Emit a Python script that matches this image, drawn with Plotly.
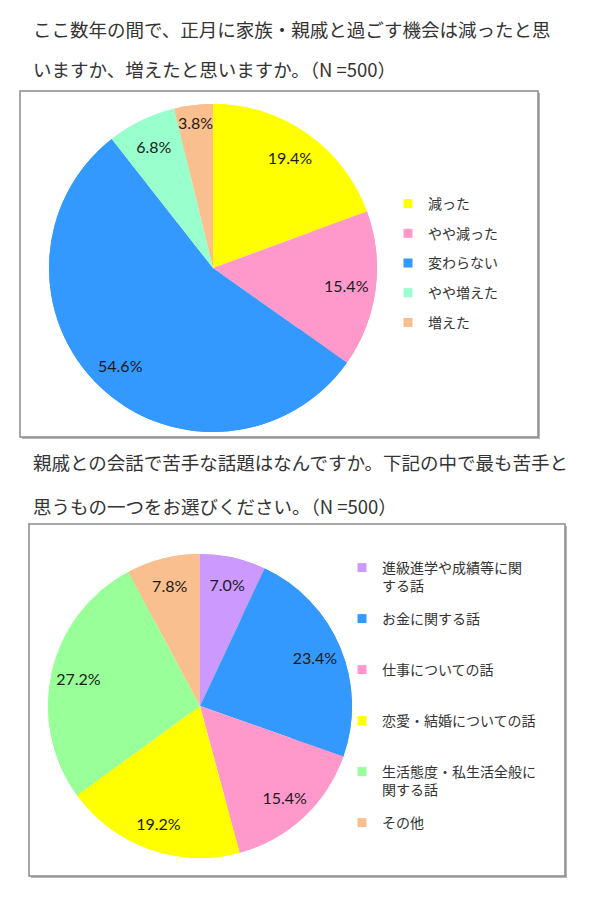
import plotly.graph_objects as go

W, H = 600, 908

# ---- data ----
title1_lines = ["ここ数年の間で、正月に家族・親戚と過ごす機会は減ったと思",
                "いますか、増えたと思いますか。（N =500）"]
labels1 = ["減った", "やや減った", "変わらない", "やや増えた", "増えた"]
values1 = [19.4, 15.4, 54.6, 6.8, 3.8]
colors1 = ["#FFFF00", "#FF99CC", "#3399FF", "#99FFCC", "#FABF8F"]

title2_lines = ["親戚との会話で苦手な話題はなんですか。下記の中で最も苦手と",
                "思うもの一つをお選びください。（N =500）"]
labels2 = ["進級進学や成績等に関<br>する話", "お金に関する話", "仕事についての話",
           "恋愛・結婚についての話", "生活態度・私生活全般に<br>関する話", "その他"]
values2 = [7.0, 23.4, 15.4, 19.2, 27.2, 7.8]
colors2 = ["#CC99FF", "#3399FF", "#FF99CC", "#FFFF00", "#99FF99", "#FABF8F"]

JP = "Noto Sans CJK JP"
NUM = "Lato"


def px_x(v):
    return v / W


def px_y(v):
    return 1 - v / H


fig = go.Figure()


def add_pie(values, labels, colors, cx, cy, r):
    dom = dict(x=[px_x(cx - r), px_x(cx + r)], y=[px_y(cy + r), px_y(cy - r)])
    common = dict(values=values, labels=labels, sort=False, direction="clockwise",
                  rotation=0, marker=dict(colors=colors, line=dict(width=0)),
                  domain=dom, showlegend=False, hoverinfo="skip")
    # full pie (fills the centre)
    fig.add_trace(go.Pie(textinfo="none", **common))
    # ring on top carrying the percentage labels near the rim
    fig.add_trace(go.Pie(hole=0.64, texttemplate="%{value:.1f}%", textposition="inside",
                         insidetextorientation="horizontal",
                         textfont=dict(family=NUM, size=16, color="#1a1a1a"), **common))


add_pie(values1, labels1, colors1, 213, 268, 164)
add_pie(values2, labels2, colors2, 200, 706, 152)

# legend entries
for i, (lab, col) in enumerate(zip(labels1, colors1)):
    fig.add_trace(go.Scatter(x=[None], y=[None], mode="markers", name=lab,
                             marker=dict(symbol="square", size=9, color=col),
                             legend="legend", legendgroup=f"a{i}", hoverinfo="skip"))
for i, (lab, col) in enumerate(zip(labels2, colors2)):
    name = lab if "<br>" in lab else lab + "<br> "
    fig.add_trace(go.Scatter(x=[None], y=[None], mode="markers", name=name,
                             marker=dict(symbol="square", size=9, color=col),
                             legend="legend2", legendgroup=f"b{i}", hoverinfo="skip"))

# titles
anns = []
for lines, x0, ys in [(title1_lines, 31, [29, 69]), (title2_lines, 31, [462, 506])]:
    for line, yy in zip(lines, ys):
        anns.append(dict(text=line, x=px_x(x0), y=px_y(yy), xref="paper", yref="paper",
                         xanchor="left", yanchor="middle", showarrow=False,
                         font=dict(family=JP, size=18.5, color="#333333")))

# boxes
shapes = []
for (x0, y0, x1, y1) in [(20, 91, 538, 437), (29, 524, 565, 876)]:
    shapes.append(dict(type="rect", xref="paper", yref="paper", layer="below",
                       x0=px_x(x0 + 2), x1=px_x(x1 + 2), y0=px_y(y1 + 2), y1=px_y(y0 + 2),
                       line=dict(width=0), fillcolor="#b5b5b5"))
    shapes.append(dict(type="rect", xref="paper", yref="paper", layer="below",
                       x0=px_x(x0), x1=px_x(x1), y0=px_y(y1), y1=px_y(y0),
                       line=dict(width=1.5, color="#8a8a8a"), fillcolor="white"))

legend_font = dict(family=JP, size=14, color="#333333")
fig.update_layout(
    width=W, height=H, margin=dict(l=0, r=0, t=0, b=0),
    paper_bgcolor="white", plot_bgcolor="white", hovermode=False,
    xaxis=dict(visible=False), yaxis=dict(visible=False),
    annotations=anns, shapes=shapes,
    legend=dict(x=px_x(388), y=px_y(188), xanchor="left", yanchor="top",
                font=legend_font, bgcolor="rgba(0,0,0,0)", tracegroupgap=8.5,
                itemwidth=30, itemclick=False, itemdoubleclick=False),
    legend2=dict(x=px_x(342), y=px_y(552), xanchor="left", yanchor="top",
                 font=legend_font, bgcolor="rgba(0,0,0,0)", tracegroupgap=11.6,
                 valign="top", itemwidth=30, itemclick=False, itemdoubleclick=False),
    uniformtext=dict(minsize=15, mode="show"),
)

fig.write_html("out.html", config={"displayModeBar": False},
               post_script="document.body.style.margin='0px';document.body.style.padding='0px';")
